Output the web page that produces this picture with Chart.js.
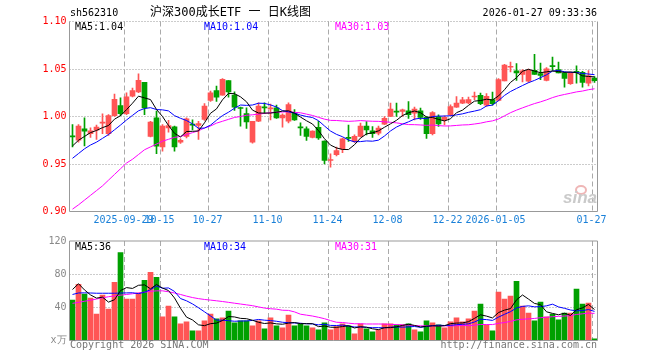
<!DOCTYPE html>
<html>
<head>
<meta charset="utf-8">
<script src="https://cdn.jsdelivr.net/npm/chart.js/dist/chart.umd.min.js"></script>
<style>
  body { margin: 0; background: #fff; }
  #box { position: relative; width: 660px; height: 360px; overflow: hidden;
         font-family: "DejaVu Sans Mono", monospace; font-size: 10px; line-height: 10px; }
  #box canvas { position: absolute; left: 0; }
  .txt { position: absolute; white-space: pre; }
  #logo { left: 563px; top: 189px; font: italic bold 17px "Liberation Sans", sans-serif; line-height: 17px; color: #cacaca; }
  #eye { position: absolute; left: 575px; top: 185px; width: 8px; height: 6px; border: 2px solid #efb6b6; border-radius: 50%; }
</style>
</head>
<body>
<div id="box">
  <canvas id="kline" width="660" height="232" style="top:0"></canvas>
  <canvas id="vol" width="660" height="128" style="top:232px"></canvas>
  <div class="txt" style="left:70px;top:8px">sh562310</div>
  <div class="txt" style="left:150px;top:6px;font-size:12px;line-height:12px;font-family:'DejaVu Sans Mono','Noto Sans CJK SC',monospace">沪深300成长ETF 一 日K线图</div>
  <div class="txt" style="right:63px;top:8px">2026-01-27 09:33:36</div>
  <div class="txt" style="left:75px;top:22px">MA5:1.04</div>
  <div class="txt" style="left:204px;top:22px;color:#00f">MA10:1.04</div>
  <div class="txt" style="left:335px;top:22px;color:#f0f">MA30:1.03</div>
  <div class="txt" style="left:75px;top:242px">MA5:36</div>
  <div class="txt" style="left:204px;top:242px;color:#00f">MA10:34</div>
  <div class="txt" style="left:335px;top:242px;color:#f0f">MA30:31</div>
  <div class="txt" style="left:70px;top:340px;color:#777">Copyright 2026 SINA.COM</div>
  <div class="txt" style="right:63px;top:340px;color:#777">http://finance.sina.com.cn</div>
  <div id="eye"></div>
  <div class="txt" id="logo">sina</div>
</div>
<script>
// 交易日
const dates = [
  '09-16','09-17','09-18','09-19','09-22','09-23','09-24','09-25','09-26','09-29','09-30',
  '10-09','10-10','10-13','10-14','10-15','10-16','10-17','10-20','10-21','10-22','10-23','10-24','10-27','10-28','10-29','10-30','10-31',
  '11-03','11-04','11-05','11-06','11-07','11-10','11-11','11-12','11-13','11-14','11-17','11-18','11-19','11-20','11-21','11-24','11-25','11-26','11-27','11-28',
  '12-01','12-02','12-03','12-04','12-05','12-08','12-09','12-10','12-11','12-12','12-15','12-16','12-17','12-18','12-19','12-22','12-23','12-24','12-25','12-26','12-29','12-30','12-31',
  '01-05','01-06','01-07','01-08','01-09','01-12','01-13','01-14','01-15','01-16','01-19','01-20','01-21','01-22','01-23','01-26','01-27'
];
const tickIndex = [9, 15, 23, 33, 43, 53, 63, 71, 87];
const tickText = ['2025-09-29','10-15','10-27','11-10','11-24','12-08','12-22','2026-01-05','01-27'];
const priceTicks = [0.90, 0.95, 1.00, 1.05, 1.10];
const volTicks = [0, 40, 80, 120];

// K线
const open = [
  0.9788,0.9750,0.9870,0.9820,0.9856,0.9930,0.9820,1.0010,1.0116,1.0030,
  1.0214,1.0260,1.0360,0.9790,0.9986,0.9680,0.9880,0.9890,0.9730,0.9790,
  0.9912,0.9905,0.9968,1.0168,1.0274,1.0225,1.0379,1.0225,1.0087,1.0030,
  0.9730,0.9950,1.0095,1.0080,1.0090,0.9986,0.9950,1.0038,0.9885,0.9870,
  0.9780,0.9887,0.9740,0.9537,0.9597,0.9660,0.9772,0.9737,0.9790,0.9900,
  0.9850,0.9825,0.9920,1.0000,1.0048,1.0053,1.0060,1.0035,1.0060,0.9990,
  0.9818,1.0000,0.9965,1.0018,1.0098,1.0140,1.0142,1.0205,1.0223,1.0118,
  1.0177,1.0170,1.0374,1.0518,1.0480,1.0444,1.0373,1.0486,1.0451,1.0380,
  1.0528,1.0493,1.0458,1.0346,1.0475,1.0464,1.0351,1.0404
];
const high = [
  0.9916,0.9916,0.9986,0.9880,0.9910,1.0028,1.0020,1.0235,1.0196,1.0250,
  1.0300,1.0450,1.0360,0.9950,1.0056,0.9916,0.9960,0.9898,0.9765,0.9986,
  0.9966,0.9950,1.0137,1.0267,1.0320,1.0400,1.0379,1.0260,1.0098,1.0090,
  0.9950,1.0144,1.0144,1.0130,1.0120,1.0028,1.0144,1.0073,0.9933,0.9890,
  0.9850,0.9950,0.9745,0.9607,0.9677,0.9772,0.9910,0.9807,0.9930,0.9947,
  0.9895,0.9900,1.0000,1.0140,1.0140,1.0077,1.0158,1.0098,1.0088,1.0000,
  1.0053,1.0018,1.0007,1.0123,1.0210,1.0203,1.0205,1.0258,1.0247,1.0240,
  1.0258,1.0398,1.0550,1.0574,1.0556,1.0493,1.0500,1.0654,1.0563,1.0514,
  1.0626,1.0574,1.0468,1.0468,1.0534,1.0475,1.0484,1.0420
];
const low = [
  0.9680,0.9730,0.9690,0.9780,0.9758,0.9820,0.9800,1.0000,1.0010,1.0020,
  1.0207,1.0250,1.0020,0.9786,0.9610,0.9635,0.9835,0.9635,0.9716,0.9775,
  0.9860,0.9758,0.9960,1.0160,1.0160,1.0225,1.0204,1.0063,0.9898,0.9874,
  0.9720,0.9945,1.0030,0.9965,0.9980,0.9888,0.9933,0.9958,0.9800,0.9747,
  0.9775,0.9758,0.9500,0.9467,0.9586,0.9620,0.9737,0.9726,0.9785,0.9807,
  0.9780,0.9807,0.9915,0.9998,1.0000,1.0000,0.9980,0.9965,0.9970,0.9770,
  0.9807,0.9895,0.9912,1.0010,1.0095,1.0135,1.0135,1.0177,1.0125,1.0107,
  1.0118,1.0163,1.0374,1.0468,1.0380,1.0363,1.0360,1.0444,1.0388,1.0374,
  1.0486,1.0458,1.0310,1.0339,1.0350,1.0310,1.0323,1.0360
];
const close = [
  0.9786,0.9898,0.9845,0.9850,0.9888,0.9933,1.0010,1.0180,1.0030,1.0207,
  1.0274,1.0380,1.0090,0.9940,0.9688,0.9900,0.9905,0.9680,0.9750,0.9975,
  0.9910,0.9925,1.0110,1.0249,1.0204,1.0390,1.0260,1.0098,1.0084,0.9944,
  0.9950,1.0110,1.0090,1.0085,0.9986,1.0014,1.0126,0.9965,0.9880,0.9790,
  0.9846,0.9775,0.9537,0.9547,0.9642,0.9765,0.9770,0.9790,0.9900,0.9860,
  0.9818,0.9877,0.9982,1.0077,1.0046,1.0070,1.0018,1.0077,0.9990,0.9818,
  1.0042,0.9923,0.9990,1.0105,1.0140,1.0175,1.0177,1.0212,1.0135,1.0212,
  1.0135,1.0388,1.0540,1.0520,1.0458,1.0480,1.0488,1.0444,1.0433,1.0503,
  1.0525,1.0458,1.0400,1.0458,1.0465,1.0358,1.0428,1.0376
];
const ma5 = [
  0.9690,0.9750,0.9790,0.9830,0.9853,0.9883,0.9905,0.9972,1.0008,1.0072,
  1.0140,1.0214,1.0196,1.0178,1.0074,1.0000,0.9905,0.9823,0.9785,0.9842,
  0.9844,0.9848,0.9934,1.0034,1.0080,1.0176,1.0243,1.0240,1.0207,1.0155,
  1.0067,1.0037,1.0036,1.0036,1.0044,1.0057,1.0060,1.0035,0.9994,0.9955,
  0.9921,0.9851,0.9766,0.9699,0.9669,0.9653,0.9652,0.9703,0.9773,0.9817,
  0.9828,0.9849,0.9887,0.9923,0.9960,1.0010,1.0039,1.0058,1.0040,0.9995,
  0.9989,0.9970,0.9953,0.9976,1.0040,1.0067,1.0117,1.0162,1.0168,1.0182,
  1.0174,1.0216,1.0282,1.0359,1.0408,1.0477,1.0497,1.0478,1.0461,1.0470,
  1.0479,1.0473,1.0464,1.0469,1.0461,1.0428,1.0422,1.0417
];
const ma10 = [
  0.9560,0.9610,0.9660,0.9700,0.9730,0.9770,0.9810,0.9860,0.9910,0.9963,
  1.0012,1.0060,1.0084,1.0093,1.0073,1.0070,1.0059,1.0009,0.9981,0.9958,
  0.9922,0.9876,0.9878,0.9909,0.9961,1.0010,1.0045,1.0087,1.0121,1.0117,
  1.0121,1.0140,1.0138,1.0122,1.0100,1.0062,1.0049,1.0035,1.0015,1.0000,
  0.9989,0.9956,0.9900,0.9847,0.9812,0.9787,0.9752,0.9734,0.9736,0.9743,
  0.9740,0.9751,0.9795,0.9848,0.9889,0.9919,0.9944,0.9973,0.9982,0.9977,
  1.0000,1.0004,1.0005,1.0008,1.0017,1.0028,1.0044,1.0057,1.0072,1.0111,
  1.0120,1.0167,1.0222,1.0263,1.0295,1.0326,1.0356,1.0380,1.0409,1.0439,
  1.0478,1.0485,1.0471,1.0464,1.0465,1.0453,1.0447,1.0440
];
const ma30 = [
  0.9025,0.9070,0.9120,0.9170,0.9220,0.9270,0.9330,0.9390,0.9450,0.9510,
  0.9550,0.9600,0.9650,0.9680,0.9710,0.9740,0.9760,0.9780,0.9790,0.9810,
  0.9830,0.9850,0.9880,0.9900,0.9930,0.9950,0.9970,0.9990,1.0000,1.0013,
  1.0018,1.0025,1.0033,1.0041,1.0045,1.0047,1.0051,1.0044,1.0039,1.0025,
  1.0011,0.9991,0.9972,0.9959,0.9958,0.9953,0.9949,0.9952,0.9957,0.9953,
  0.9950,0.9949,0.9944,0.9939,0.9933,0.9923,0.9915,0.9914,0.9911,0.9907,
  0.9910,0.9904,0.9900,0.9901,0.9906,0.9911,0.9913,0.9921,0.9930,0.9944,
  0.9954,0.9974,1.0007,1.0040,1.0067,1.0091,1.0114,1.0136,1.0154,1.0175,
  1.0199,1.0218,1.0232,1.0245,1.0259,1.0268,1.0282,1.0292
];

// 成交量 (万)
const volume = [
  48.7,67.8,55.9,51.1,32.0,54.7,38.0,70.2,106.0,49.9,
  49.9,57.1,72.6,82.1,76.2,28.4,41.6,28.4,20.1,22.4,
  11.7,11.7,23.6,32.0,26.0,27.2,35.6,21.3,23.6,23.6,
  17.7,23.6,14.1,27.2,17.7,15.3,30.8,17.7,20.1,17.7,
  15.3,12.9,21.3,12.9,16.9,20.1,17.7,8.1,20.1,14.1,
  10.5,12.9,20.1,20.1,18.9,18.9,20.1,12.9,10.5,23.6,
  21.3,18.9,15.3,22.4,27.2,22.4,26.0,35.6,44.0,18.9,
  11.7,58.3,49.9,53.5,71.4,41.6,33.2,23.6,46.3,28.4,
  32.0,24.8,33.2,33.2,61.9,44.0,45.1,2.1
];
const volMa5 = [
  61.5,68.5,61.0,55.0,51.1,52.3,46.3,49.2,60.2,63.8,
  62.8,66.6,67.1,62.3,67.6,63.3,60.2,51.3,38.9,28.2,
  24.8,18.9,17.9,20.3,21.0,24.1,28.9,28.4,26.7,26.3,
  24.4,22.0,20.5,21.2,20.1,19.6,21.0,21.7,20.3,20.3,
  20.3,16.7,17.5,16.0,15.9,16.8,17.8,15.1,16.6,16.0,
  14.1,13.1,15.5,15.5,16.5,18.2,19.6,18.2,16.3,17.2,
  17.7,17.4,17.9,20.3,21.0,21.2,22.7,26.7,31.0,29.4,
  27.2,33.7,36.6,38.5,49.0,54.9,49.9,44.7,43.2,34.6,
  32.7,31.0,32.9,30.3,37.0,39.4,43.5,37.3
];
const volMa10 = [
  55.5,57.3,57.5,57.3,57.0,57.0,57.0,57.0,57.2,57.4,
  57.6,56.5,58.2,61.3,65.7,63.0,63.4,59.2,50.6,47.9,
  44.1,39.5,34.6,29.6,24.6,24.5,23.9,23.2,23.5,23.6,
  24.2,25.4,24.5,24.0,23.2,22.0,21.5,21.1,20.8,20.2,
  20.0,18.9,19.6,18.2,18.1,18.6,17.3,16.3,16.3,15.9,
  15.5,15.5,15.3,16.1,16.3,16.1,16.4,16.9,15.9,16.9,
  17.9,18.5,18.1,18.3,19.1,19.5,20.1,22.3,25.7,25.2,
  24.2,28.2,31.6,34.8,39.2,41.1,41.8,40.6,40.8,41.8,
  43.8,40.5,38.8,36.8,35.8,36.1,37.3,35.1
];
const volMa30 = [
  44.8,46.0,47.3,48.6,50.0,51.5,52.8,53.8,54.7,55.5,
  56.4,57.3,58.3,59.3,59.9,59.9,58.8,57.3,55.5,53.5,
  51.8,50.5,49.5,48.7,47.9,47.0,46.0,45.0,44.0,43.0,
  42.0,40.5,39.1,38.3,37.8,36.5,36.3,34.5,31.7,30.6,
  29.5,28.0,26.3,24.0,22.0,21.7,20.9,20.2,20.2,19.9,
  19.9,19.9,19.8,19.4,19.2,18.9,18.4,18.1,17.7,17.7,
  17.8,17.6,17.7,17.5,17.8,18.1,17.9,18.5,19.3,19.3,
  19.2,20.7,21.7,23.0,24.9,25.6,26.1,26.6,27.5,28.0,
  28.7,29.1,29.5,30.0,31.4,32.2,33.1,32.7
];

const UP = '#ff5555', DOWN = '#00a000';
const candleColor = close.map((c, i) => c >= open[i] ? UP : DOWN);
const mono = { family: 'DejaVu Sans Mono', size: 10 };

// 网格和边框
const frame = {
  id: 'frame',
  beforeDatasetsDraw(chart, args, o) {
    const { ctx, chartArea: a, scales: { x, y } } = chart;
    const half = (x.getPixelForValue(1) - x.getPixelForValue(0)) / 2;
    ctx.save();
    ctx.lineWidth = 1;
    ctx.strokeStyle = '#aaa';
    ctx.setLineDash([5, 3]);
    tickIndex.forEach(i => {
      const px = Math.round(x.getPixelForValue(i) - half) + 0.5;
      ctx.beginPath(); ctx.moveTo(px, a.top); ctx.lineTo(px, a.bottom); ctx.stroke();
    });
    ctx.strokeStyle = '#999';
    ctx.setLineDash([1, 2]);
    o.dotted.forEach(v => {
      const py = Math.floor(y.getPixelForValue(v)) + 0.5;
      ctx.beginPath(); ctx.moveTo(a.left, py); ctx.lineTo(a.right, py); ctx.stroke();
    });
    ctx.restore();
  },
  afterDatasetsDraw(chart, args, o) {
    const { ctx, chartArea: a } = chart;
    ctx.save();
    ctx.strokeStyle = '#999';
    ctx.lineWidth = 1;
    ctx.beginPath();
    ctx.moveTo(a.left, a.top);
    ctx.lineTo(a.left, a.bottom);
    ctx.lineTo(a.right, a.bottom);
    ctx.lineTo(a.right, a.top);
    if (o.closedTop) ctx.lineTo(a.left, a.top);
    ctx.stroke();
    ctx.restore();
  }
};

const maLine = (data, color) => ({ type: 'line', data, borderColor: color, order: 0 });

new Chart(document.getElementById('kline'), {
  type: 'bar',
  data: {
    labels: dates,
    datasets: [
      maLine(ma5, '#000'),
      maLine(ma10, '#00f'),
      maLine(ma30, '#f0f'),
      { data: open.map((o, i) => [o, close[i]]), backgroundColor: candleColor, barThickness: 5, order: 1 },
      { data: low.map((l, i) => [l, high[i]]), backgroundColor: candleColor, barThickness: 1, order: 2 }
    ]
  },
  options: {
    responsive: false,
    animation: false,
    layout: { padding: { top: 21.5, right: 62.5, bottom: 0, left: 0 } },
    datasets: {
      bar: { grouped: false, minBarLength: 1, borderWidth: 0 },
      line: { pointRadius: 0, borderWidth: 1, tension: 0 }
    },
    plugins: {
      legend: { display: false },
      tooltip: { enabled: false },
      frame: { dotted: [0.95, 1.00, 1.05, 1.10], closedTop: false }
    },
    scales: {
      x: {
        grid: { display: false, drawTicks: false },
        border: { display: false },
        ticks: {
          autoSkip: false, maxRotation: 0, minRotation: 0,
          color: '#1a80d8', font: mono, padding: 3, labelOffset: -3,
          callback: (v, i) => { const k = tickIndex.indexOf(i); return k < 0 ? '' : tickText[k]; }
        },
        afterFit: s => { s.height = 20.5; }
      },
      y: {
        min: 0.9, max: 1.1,
        grid: { display: false, drawTicks: false },
        border: { display: false },
        afterBuildTicks: s => { s.ticks = priceTicks.map(v => ({ value: v })); },
        ticks: { color: '#f00', font: mono, padding: 3, callback: v => v.toFixed(2) },
        afterFit: s => { s.width = 69.5; }
      }
    }
  },
  plugins: [frame]
});

new Chart(document.getElementById('vol'), {
  type: 'bar',
  data: {
    labels: dates,
    datasets: [
      maLine(volMa5, '#000'),
      maLine(volMa10, '#00f'),
      maLine(volMa30, '#f0f'),
      { data: volume, backgroundColor: candleColor, barThickness: 5, order: 1 }
    ]
  },
  options: {
    responsive: false,
    animation: false,
    layout: { padding: { top: 8.5, right: 62.5, bottom: 19.5, left: 0 } },
    datasets: {
      bar: { grouped: false, borderWidth: 0 },
      line: { pointRadius: 0, borderWidth: 1, tension: 0 }
    },
    plugins: {
      legend: { display: false },
      tooltip: { enabled: false },
      frame: { dotted: [40, 80], closedTop: true }
    },
    scales: {
      x: { display: false },
      y: {
        min: 0, max: 120,
        grid: { display: false, drawTicks: false },
        border: { display: false },
        afterBuildTicks: s => { s.ticks = volTicks.map(v => ({ value: v })); },
        ticks: { color: '#888', font: mono, padding: 3, callback: v => v === 0 ? 'x万' : v },
        afterFit: s => { s.width = 69.5; }
      }
    }
  },
  plugins: [frame]
});
</script>
</body>
</html>
